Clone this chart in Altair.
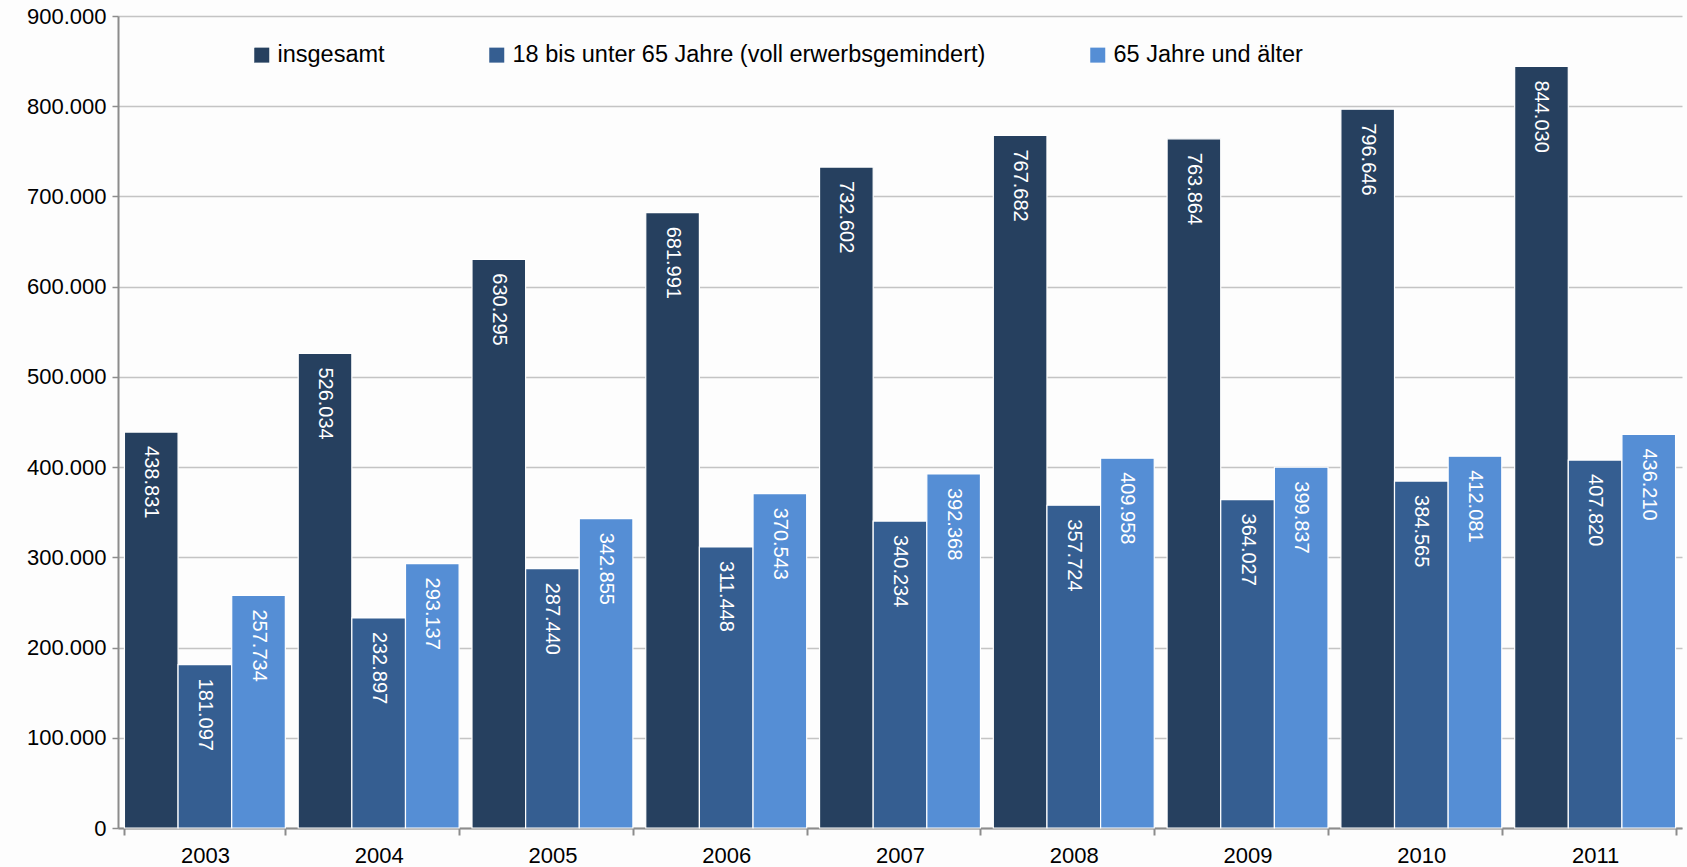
import altair as alt
import pandas as pd

years = ["2003", "2004", "2005", "2006", "2007", "2008", "2009", "2010", "2011"]
series = ["insgesamt", "18 bis unter 65 Jahre (voll erwerbsgemindert)", "65 Jahre und älter"]
insgesamt = [438831, 526034, 630295, 681991, 732602, 767682, 763864, 796646, 844030]
erwerbsgemindert = [181097, 232897, 287440, 311448, 340234, 357724, 364027, 384565, 407820]
aelter = [257734, 293137, 342855, 370543, 392368, 409958, 399837, 412081, 436210]
colors = ["#26405F", "#355E91", "#558ED5"]

rows = []
for vals, s in zip([insgesamt, erwerbsgemindert, aelter], series):
    for y, v in zip(years, vals):
        rows.append({"Jahr": y, "Gruppe": s, "Wert": v,
                     "Label": f"{v:,}".replace(",", ".")})
df = pd.DataFrame(rows)

FONT = "Liberation Sans"

x = alt.X("Jahr:N", sort=years, title=None,
          scale=alt.Scale(paddingInner=0.074, paddingOuter=0.037),
          axis=alt.Axis(labelAngle=0, labelFontSize=22, labelFont=FONT, labelColor="#000000",
                        labelPadding=10, tickBand="extent", tickSize=7, tickColor="#8C8C8C",
                        tickWidth=2, domainColor="#8C8C8C", domainWidth=2, grid=False))
y = alt.Y("Wert:Q", title=None,
          scale=alt.Scale(domain=[0, 900000], nice=False),
          axis=alt.Axis(values=list(range(0, 900001, 100000)),
                        labelExpr="replace(format(datum.value, ',.0f'), ',', '.')",
                        labelFontSize=22, labelFont=FONT, labelColor="#000000", labelPadding=6,
                        tickSize=6, tickColor="#8C8C8C", tickWidth=1.5,
                        domainColor="#8C8C8C", domainWidth=2,
                        grid=True, gridColor="#C4C4C4", gridWidth=1.5))
xo = alt.XOffset("Gruppe:N", sort=series, scale=alt.Scale(paddingInner=0, paddingOuter=0))

bars = alt.Chart(df).mark_bar(stroke="#FFFFFF", strokeWidth=1.2).encode(
    x=x, y=y, xOffset=xo,
    color=alt.Color("Gruppe:N", sort=series,
                    scale=alt.Scale(domain=series, range=colors),
                    legend=alt.Legend(title=None, orient="none", direction="horizontal",
                                      legendX=132, legendY=27, padding=0,
                                      symbolType="square", symbolSize=225,
                                      symbolStrokeWidth=0, symbolOpacity=1,
                                      labelFontSize=23.5, labelFont=FONT,
                                      labelColor="#000000", labelOffset=4,
                                      columnPadding=100, labelLimit=700)),
)

labels = alt.Chart(df).mark_text(angle=90, align="left", baseline="middle", dx=14,
                                 color="#FFFFFF", fontSize=20, font=FONT).encode(
    x=x, y=y, xOffset=xo, text="Label:N"
)

chart = alt.layer(bars, labels).properties(
    width=1564, height=812,
    autosize=alt.AutoSizeParams(type="none"),
    padding={"left": 118, "top": 16, "right": 5, "bottom": 39},
    background="#FDFDFD",
).configure_view(stroke=None)

chart.save("out.html", embed_options={"renderer": "svg", "actions": False})
